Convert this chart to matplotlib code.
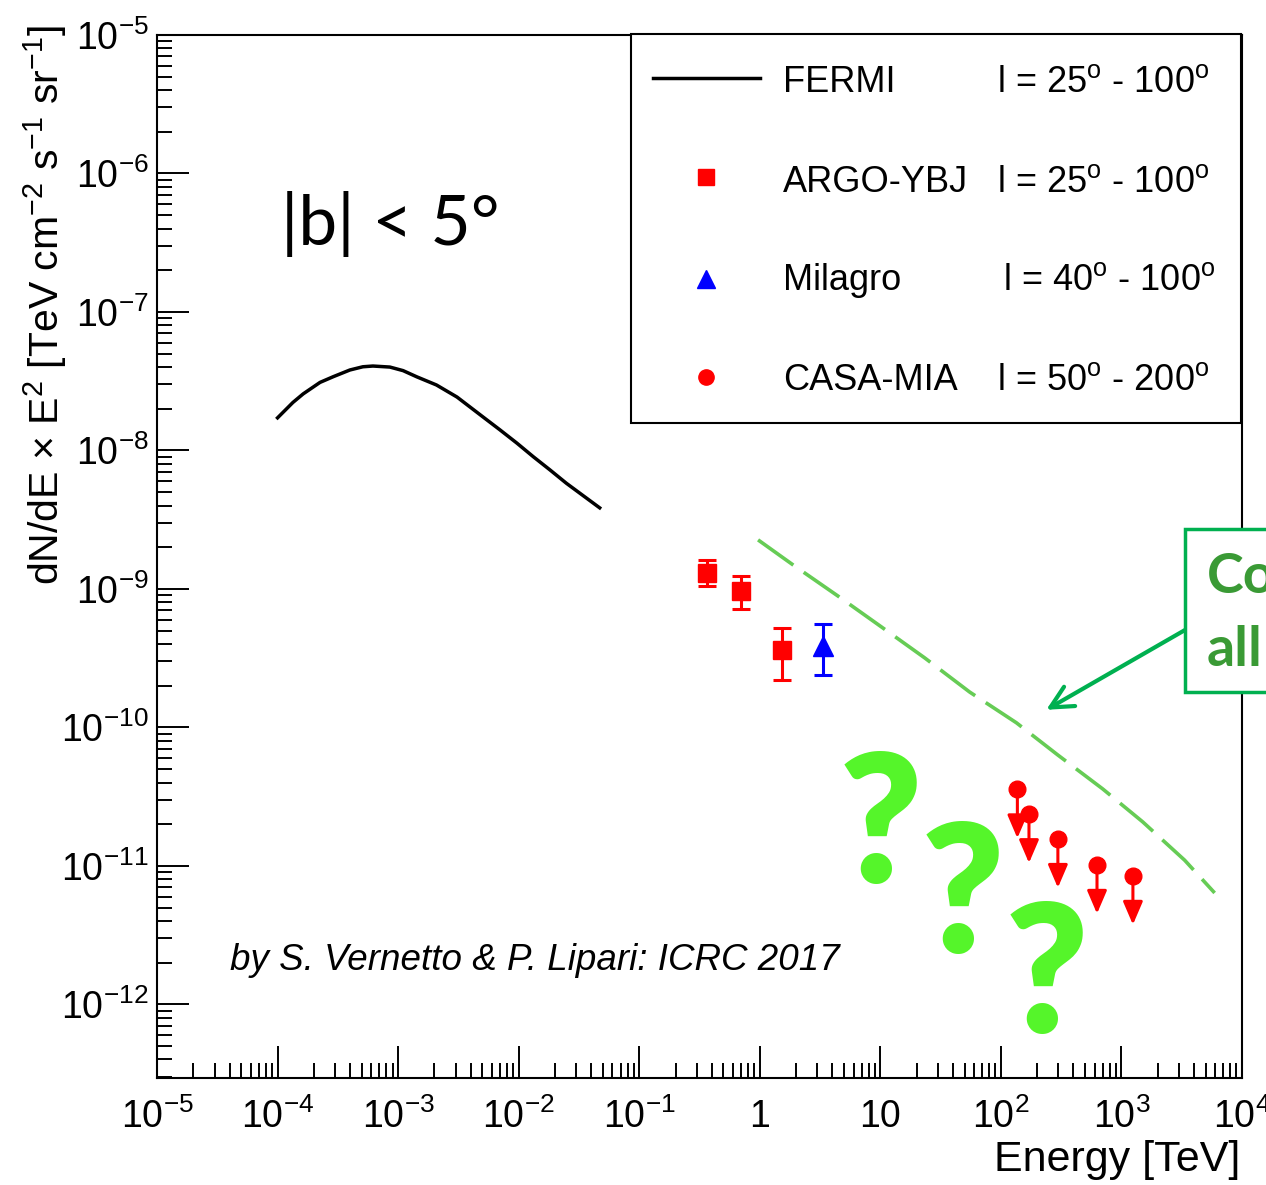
import matplotlib
matplotlib.use("Agg")
import matplotlib.pyplot as plt
from matplotlib.lines import Line2D
from matplotlib.patches import Rectangle, ArrowStyle
from matplotlib.ticker import LogLocator, FixedLocator, FixedFormatter, NullFormatter

plt.rcParams['font.family'] = ['Liberation Sans', 'DejaVu Sans']
plt.rcParams['mathtext.fontset'] = 'custom'
plt.rcParams['mathtext.rm'] = 'Liberation Sans'
plt.rcParams['mathtext.it'] = 'Liberation Sans:italic'
plt.rcParams['mathtext.bf'] = 'Liberation Sans:bold'

# FERMI diffuse spectrum (l = 25-100 deg)
fermi_e = [1.0e-4, 1.34e-4, 1.63e-4, 2.25e-4, 2.90e-4, 3.98e-4, 5.1e-4, 6.18e-4,
           8.55e-4, 1.10e-3, 1.43e-3, 2.08e-3, 3.08e-3, 5.04e-3, 6.98e-3,
           9.66e-3, 1.32e-2, 1.82e-2, 2.49e-2, 4.7e-2]
fermi_f = [1.72e-8, 2.22e-8, 2.56e-8, 3.10e-8, 3.41e-8, 3.81e-8, 4.02e-8, 4.07e-8,
           4.0e-8, 3.77e-8, 3.40e-8, 2.97e-8, 2.43e-8, 1.75e-8, 1.41e-8,
           1.13e-8, 9.02e-9, 7.23e-9, 5.79e-9, 3.85e-9]

# ARGO-YBJ
argo_e = [0.368, 0.705, 1.54]
argo_f = [1.30e-9, 9.72e-10, 3.63e-10]
argo_hi = [1.61e-9, 1.24e-9, 5.2e-10]
argo_lo = [1.045e-9, 7.13e-10, 2.2e-10]

# Milagro
milagro_e = [3.35]
milagro_f = [3.85e-10]
milagro_hi = [5.58e-10]
milagro_lo = [2.39e-10]

# CASA-MIA upper limits
casa_e = [137, 171, 297, 627, 1245]
casa_f = [3.58e-11, 2.37e-11, 1.57e-11, 1.02e-11, 8.5e-12]
ul_factor = 0.443  # arrow length of the upper limits

# dashed green curve
cr_e = [0.968, 1.89, 4.44, 10.2, 23.3, 55.1, 134.5, 296, 698, 1500, 3342, 5930]
cr_f = [2.26e-9, 1.49e-9, 8.9e-10, 5.32e-10, 3.18e-10, 1.80e-10, 1.08e-10,
        6.33e-11, 3.6e-11, 2.08e-11, 1.10e-11, 6.38e-12]

x_ticks = [1e-5, 1e-4, 1e-3, 1e-2, 1e-1, 1, 10, 1e2, 1e3, 1e4]
x_ticklabels = ['$10^{-5}$', '$10^{-4}$', '$10^{-3}$', '$10^{-2}$', '$10^{-1}$',
                '1', '10', '$10^{2}$', '$10^{3}$', '$10^{4}$']
y_ticks = [1e-12, 1e-11, 1e-10, 1e-9, 1e-8, 1e-7, 1e-6, 1e-5]
y_ticklabels = ['$10^{-12}$', '$10^{-11}$', '$10^{-10}$', '$10^{-9}$',
                '$10^{-8}$', '$10^{-7}$', '$10^{-6}$', '$10^{-5}$']

leg_names = ['FERMI', 'ARGO-YBJ', 'Milagro', 'CASA-MIA']
leg_ranges = [r'l = 25$^{\mathrm{o}}$ - 100$^{\mathrm{o}}$',
              r'l = 25$^{\mathrm{o}}$ - 100$^{\mathrm{o}}$',
              r'l = 40$^{\mathrm{o}}$ - 100$^{\mathrm{o}}$',
              r'l = 50$^{\mathrm{o}}$ - 200$^{\mathrm{o}}$']

W, H = 1266, 1185


def px(x, y):
    # pixel position (from top-left) -> figure fraction
    return x / W, 1 - y / H


fig = plt.figure(figsize=(W / 100, H / 100), dpi=100)
ax = fig.add_axes([157 / W, 1 - 1078 / H, (1242 - 157) / W, (1078 - 35) / H])
ax.set_xscale('log')
ax.set_yscale('log')
ax.set_xlim(1e-5, 1e4)
ax.set_ylim(2.94e-13, 1e-5)

red = '#ff0000'
blue = '#0000ff'

ax.plot(fermi_e, fermi_f, color='black', lw=2.5, solid_joinstyle='round')

lo = [f - l for f, l in zip(argo_f, argo_lo)]
hi = [h - f for f, h in zip(argo_f, argo_hi)]
ax.errorbar(argo_e, argo_f, yerr=[lo, hi], fmt='s', color=red, ms=13,
            elinewidth=2.2, capsize=6.5, capthick=2.2)

lo = [f - l for f, l in zip(milagro_f, milagro_lo)]
hi = [h - f for f, h in zip(milagro_f, milagro_hi)]
ax.errorbar(milagro_e, milagro_f, yerr=[lo, hi], fmt='^', color=blue, ms=14,
            elinewidth=2.2, capsize=6.5, capthick=2.2)

ax.plot(casa_e, casa_f, 'o', color=red, ms=12)
for e, f in zip(casa_e, casa_f):
    ax.annotate('', xy=(e, f * ul_factor), xytext=(e, f),
                arrowprops=dict(arrowstyle=ArrowStyle('-|>', head_length=0.7, head_width=0.3),
                                mutation_scale=20, color=red, lw=2.2,
                                shrinkA=0, shrinkB=0))

ax.plot(cr_e, cr_f, color='#66cc55', lw=2.6, dashes=(12, 3.5))

# axes styling (ROOT-like)
for s in ax.spines.values():
    s.set_linewidth(1.5)
ax.xaxis.set_major_locator(FixedLocator(x_ticks))
ax.xaxis.set_major_formatter(FixedFormatter(x_ticklabels))
ax.xaxis.set_minor_locator(LogLocator(base=10, subs=range(2, 10), numticks=20))
ax.xaxis.set_minor_formatter(NullFormatter())
ax.yaxis.set_major_locator(FixedLocator(y_ticks))
ax.yaxis.set_major_formatter(FixedFormatter(y_ticklabels))
ax.yaxis.set_minor_locator(LogLocator(base=10, subs=range(2, 10), numticks=20))
ax.yaxis.set_minor_formatter(NullFormatter())
ax.tick_params(which='both', direction='in', top=False, right=False, width=1.4)
ax.tick_params(which='major', length=23, labelsize=27)
ax.tick_params(which='minor', length=11)
ax.tick_params(axis='x', which='major', pad=15)
ax.tick_params(axis='y', which='major', pad=6)

fig.text(*px(45, 25), r'dN/dE $\times$ E$^{2}$ [TeV cm$^{-2}$ s$^{-1}$ sr$^{-1}$]',
         rotation=90, ha='center', va='top', fontsize=29.5)
fig.text(*px(1240, 1160), 'Energy [TeV]', ha='right', va='center', fontsize=31)

# legend box, drawn by hand
x0, y0 = px(631, 423)
x1, y1 = px(1241, 34)
fig.add_artist(Rectangle((x0, y0), x1 - x0, y1 - y0, transform=fig.transFigure,
                         facecolor='white', edgecolor='black', lw=1.5, zorder=5))
row_y = [82, 182, 281, 380]
fig.add_artist(Line2D([653 / W, 760 / W], [1 - 78 / H] * 2, transform=fig.transFigure,
                      color='black', lw=2.5, zorder=6))
fig.add_artist(Line2D([706 / W], [1 - 177 / H], transform=fig.transFigure, marker='s',
                      color=red, ms=12, zorder=6))
fig.add_artist(Line2D([706 / W], [1 - 279 / H], transform=fig.transFigure, marker='^',
                      color=blue, ms=13, zorder=6))
fig.add_artist(Line2D([706 / W], [1 - 377 / H], transform=fig.transFigure, marker='o',
                      color=red, ms=11, zorder=6))
range_x = [997, 997, 1003, 997]
for name, rng, yy, rx in zip(leg_names, leg_ranges, row_y, range_x):
    fig.text(*px(783, yy), name, ha='left', va='center', fontsize=26, zorder=7)
    fig.text(*px(rx, yy), rng, ha='left', va='center', fontsize=26, zorder=7)

fig.text(*px(390, 224), '|b| < 5°', ha='center', va='center', fontsize=50,
         family='Lato')
fig.text(*px(230, 960), 'by S. Vernetto & P. Lipari: ICRC 2017', ha='left',
         va='center', fontsize=26.5, style='italic')

# question marks
for qx, qy in [(881, 831), (963, 901), (1046, 981)]:
    fig.text(*px(qx, qy), '?', ha='center', va='center', fontsize=128,
             family='Lato', weight='heavy', color='#55f52a', zorder=8)

# green call-out box (cut by the figure edge)
bx0, by0 = px(1185, 692)
bx1, by1 = px(1320, 529)
fig.add_artist(Rectangle((bx0, by0), bx1 - bx0, by1 - by0, transform=fig.transFigure,
                         facecolor='white', edgecolor='#00b050', lw=2.5, zorder=9))
fig.text(*px(1207, 577), 'Co', ha='left', va='center', fontsize=40, family='Lato',
         weight='bold', color='#3a9a35', zorder=10)
fig.text(*px(1207, 650), 'all', ha='left', va='center', fontsize=40, family='Lato',
         weight='bold', color='#3a9a35', zorder=10)
ax.annotate('', xy=(238, 1.34e-10), xytext=px(1185, 630), textcoords='figure fraction',
            arrowprops=dict(arrowstyle='->', color='#00b050', lw=3, mutation_scale=40,
                            shrinkA=0, shrinkB=0), annotation_clip=False)

fig.savefig('out.png', dpi=100)
